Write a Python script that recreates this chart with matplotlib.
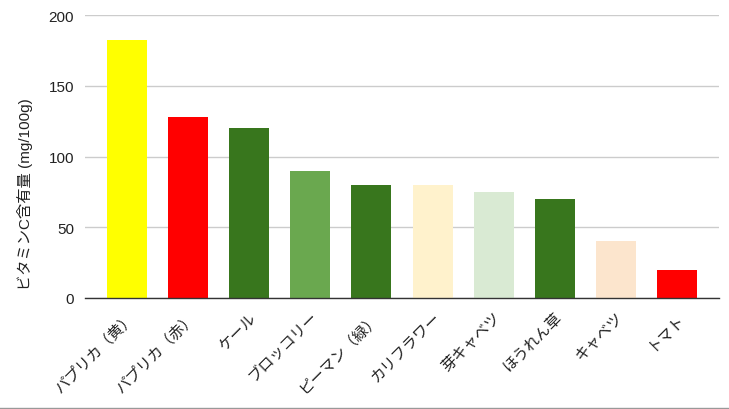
import matplotlib
matplotlib.use('Agg')
import matplotlib.pyplot as plt
from matplotlib.lines import Line2D

plt.rcParams['font.family'] = ['Liberation Sans', 'Noto Sans CJK JP', 'DejaVu Sans']

# Data
vegetables = ['パプリカ（黄）', 'パプリカ（赤）', 'ケール', 'ブロッコリー', 'ピーマン（緑）',
              'カリフラワー', '芽キャベツ', 'ほうれん草', 'キャベツ', 'トマト']
vitamin_c = [182, 128, 120, 90, 80, 80, 75, 70, 40, 20]
colors = ['#FFFF00', '#FF0000', '#38761D', '#6AA84F', '#38761D',
          '#FFF2CC', '#D9EAD3', '#38761D', '#FCE5CD', '#FF0000']
yticks = [0, 50, 100, 150, 200]

fig = plt.figure(figsize=(7.29, 4.10), dpi=100)
ax = fig.add_axes([85 / 729, 111 / 410, 634 / 729, 283 / 410])

x = range(len(vegetables))
ax.bar(x, vitamin_c, width=0.655, color=colors, zorder=3)

ax.set_xlim(-0.687, len(vegetables) - 1 + 0.687)
ax.set_ylim(0, 200)
ax.set_yticks(yticks)
ax.set_xticks(list(x))
ax.set_xticklabels(vegetables, rotation=45, ha='right', rotation_mode='anchor', fontsize=11)
ax.tick_params(axis='y', labelsize=11, length=0, pad=8, colors='#222222')
ax.tick_params(axis='x', length=0, pad=8, colors='#222222')
ax.grid(axis='y', color='#cccccc', linewidth=1, zorder=0)

for s in ['top', 'right', 'left']:
    ax.spines[s].set_visible(False)
ax.spines['bottom'].set_color('#333333')
ax.spines['bottom'].set_linewidth(1)
ax.spines['bottom'].set_zorder(4)

ax.set_ylabel('ビタミンC含有量 (mg/100g)', fontsize=11, color='#222222')
ax.yaxis.set_label_coords(-0.082, 0.37)

# thin border at the bottom of the figure
fig.add_artist(Line2D([0, 1], [1.5 / 410, 1.5 / 410], color='#999999', linewidth=1))

plt.savefig('out.png', dpi=100)
